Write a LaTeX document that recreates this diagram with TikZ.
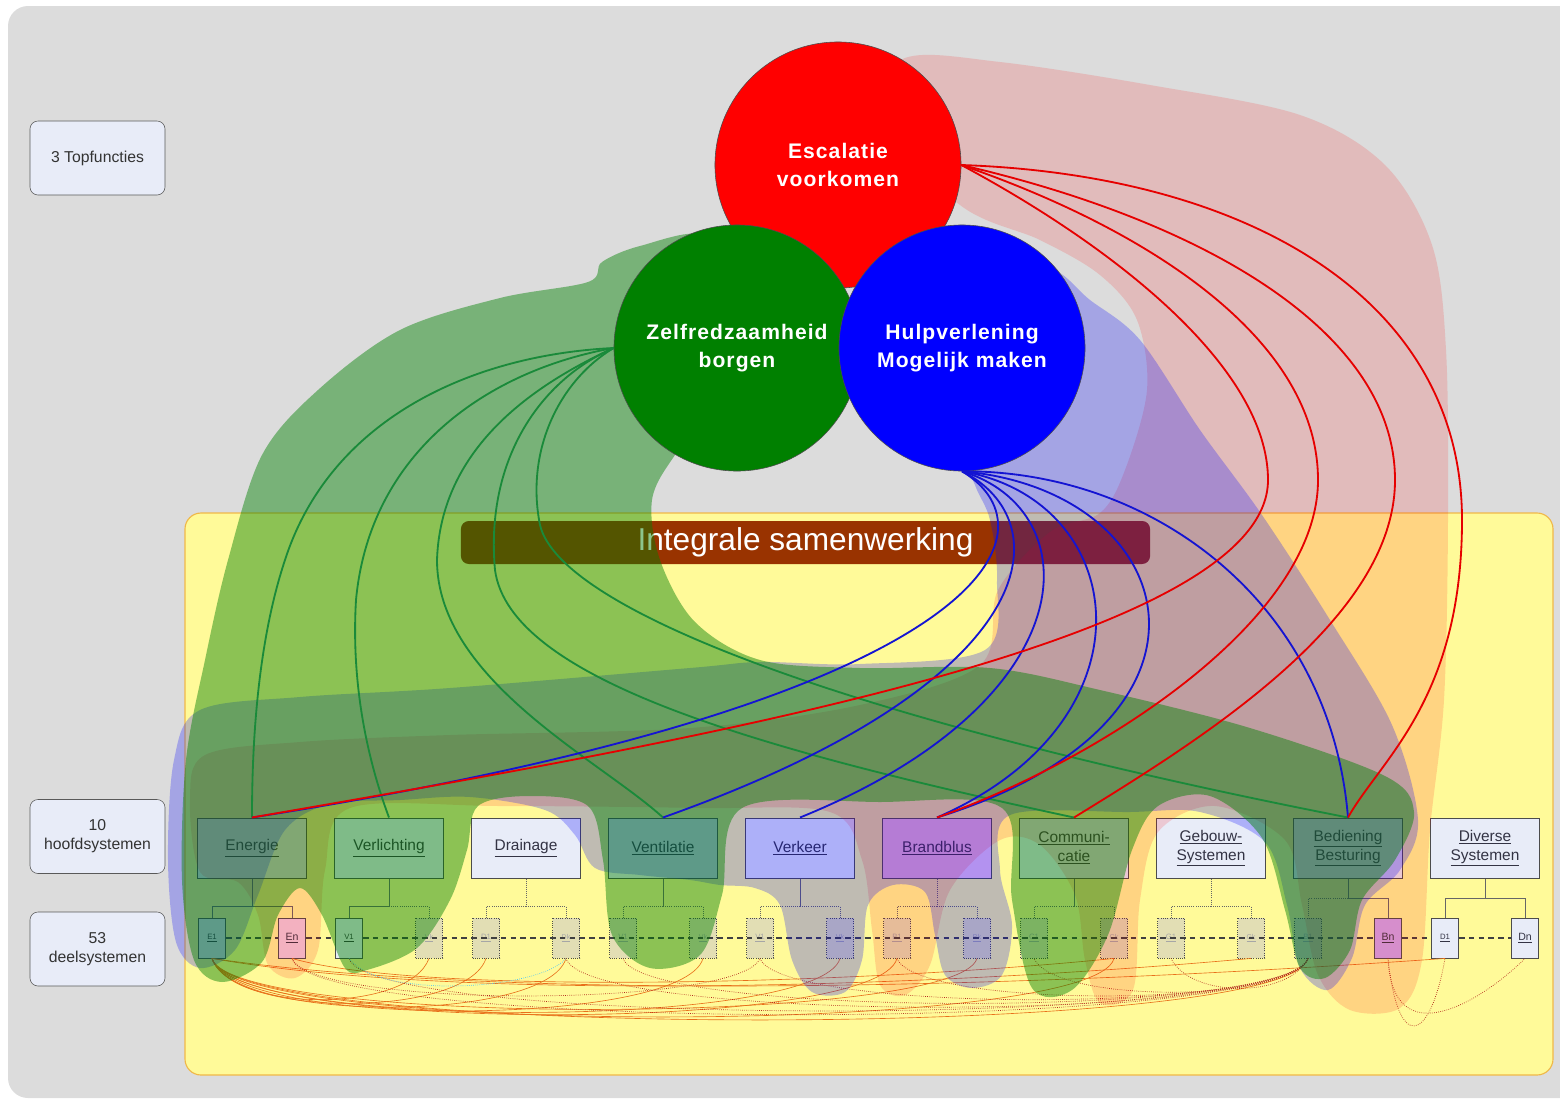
\documentclass[tikz,border=0pt]{standalone}
\usepackage{fontspec}
\setmainfont{Liberation Sans}
\newfontfamily\circlefont{Liberation Sans}[LetterSpace=5]
\usetikzlibrary{calc}

\definecolor{bggray}{HTML}{DCDCDC}
\definecolor{boxfill}{HTML}{E8ECF8}
\definecolor{boxtext}{HTML}{333344}
\definecolor{boxroze}{HTML}{F2D0E2}
\definecolor{boxpaars}{HTML}{CFA8F0}
\definecolor{boxbrand}{HTML}{F0C4EC}
\definecolor{subbeige}{HTML}{E2DEB4}
\definecolor{geel}{HTML}{FFFA99}
\definecolor{geelrand}{HTML}{F0B848}
\definecolor{balkrood}{HTML}{993300}
\definecolor{lijngroen}{HTML}{1A8A3A}
\definecolor{lijnrood}{HTML}{E60000}
\definecolor{lijnblauw}{HTML}{1414D2}
\definecolor{kluwenoranje}{HTML}{E8701A}
\definecolor{kluwenrood}{HTML}{B42A1E}

\tikzset{
  labelbox/.style={draw=black!65, fill=boxfill, rounded corners=0.2cm, minimum width=3.375cm,
    minimum height=1.85cm, align=center, text=black!80, font=\fontsize{11.2}{13.5}\selectfont},
  topfunctie/.style={circle, draw=black!70, line width=0.4pt, minimum size=6.15cm, inner sep=0pt,
    text=white, align=center, font=\circlefont\bfseries\fontsize{15}{20}\selectfont},
  balk/.style={fill=balkrood, rounded corners=0.2cm, minimum width=17.225cm, minimum height=1.075cm,
    text=white, font=\fontsize{22.5}{26}\selectfont},
  hoofdbox/.style={draw=black!70, line width=0.7pt, minimum width=2.725cm, minimum height=1.5cm,
    inner sep=1pt, align=center, text=boxtext, font=\fontsize{11}{13.5}\selectfont},
  deelbox/.style={draw=black!70, line width=0.6pt, minimum width=0.675cm, minimum height=1cm,
    inner sep=0pt, text=boxtext, font=\fontsize{7.5}{8}\selectfont},
  deeluit/.style={deelbox, densely dotted, text=black!35, font=\fontsize{5}{6}\selectfont},
  boom/.style={draw=black!60, line width=0.5pt},
  boomuit/.style={boom, densely dotted},
  deellijn/.style={draw=black!75, line width=0.9pt, dash pattern=on 4pt off 3pt},
  kluwen/.style={draw=kluwenoranje, line width=0.45pt},
  kluwenstip/.style={draw=kluwenrood, line width=0.5pt, densely dotted},
  rvlak/.style={fill=red, fill opacity=0.15},
  bvlak/.style={fill=blue, fill opacity=0.25},
  gvlak/.style={fill=green!50!black, fill opacity=0.45},
  groen/.style={draw=lijngroen, line width=1.3pt},
  rood/.style={draw=lijnrood, line width=1.3pt},
  blauw/.style={draw=lijnblauw, line width=1.3pt}
}

\begin{document}
\begin{tikzpicture}[x=0.025cm, y=-0.025cm]

  \useasboundingbox (0,0) rectangle (1560,1106);
  \clip (0,0) rectangle (1560,1106);

  % grey sheet and yellow frame
  \fill[bggray, rounded corners=0.5cm] (8,6) rectangle (1600,1098);
  \draw[fill=geel, draw=geelrand, line width=0.8pt, rounded corners=0.4cm] (185,513) rectangle (1553,1075);

  % labels on the left
  \node[labelbox] (lbltop) at (97.5,158) {3 Topfuncties};
  \node[labelbox] (lblhoofd) at (97.5,836.5) {10\\hoofdsystemen};
  \node[labelbox] (lbldeel) at (97.5,949) {53\\deelsystemen};

  % banner
  \node[balk] (samen) at (805.5,542.5) {Integrale samenwerking};

  % main systems
  \foreach \i/\naam/\kleur in {
      0/{\underline{Energie}}/boxfill,
      1/{\underline{Verlichting}}/boxfill,
      2/{\underline{Drainage}}/boxfill,
      3/{\underline{Ventilatie}}/boxfill,
      4/{\underline{Verkeer}}/boxfill,
      5/{\underline{Brandblus}}/boxbrand,
      6/{\underline{Communi-}\\\underline{catie}}/boxfill,
      7/{\underline{Gebouw-}\\\underline{Systemen}}/boxfill,
      8/{\underline{Bediening}\\\underline{Besturing}}/boxfill,
      9/{\underline{Diverse}\\\underline{Systemen}}/boxfill}
    \node[hoofdbox, fill=\kleur] (h\i) at (252+137*\i,848) {\naam};

  % sub systems, first and last of each group
  \foreach \i/\letter/\eind/\sa/\sb/\fa/\fb in {
      0/E/n/deelbox/deelbox/boxfill/boxroze,
      1/V/k/deelbox/deeluit/boxfill/subbeige,
      2/D/k/deeluit/deeluit/subbeige/subbeige,
      3/V/k/deeluit/deeluit/subbeige/subbeige,
      4/V/k/deeluit/deeluit/subbeige/subbeige,
      5/B/k/deeluit/deeluit/subbeige/subbeige,
      6/C/k/deeluit/deeluit/subbeige/subbeige,
      7/G/k/deeluit/deeluit/subbeige/subbeige,
      8/B/n/deeluit/deelbox/subbeige/boxpaars,
      9/D/n/deelbox/deelbox/boxfill/boxfill}
  {
    \node[\sa, fill=\fa, font=\fontsize{5.5}{6}\selectfont] (sa\i) at (212+137*\i,938) {\underline{\letter1}};
    \node[\sb, fill=\fb] (sb\i) at (292+137*\i,938) {\underline{\letter\eind}};
  }

  % tree from main to sub systems
  \foreach \i/\dy/\st/\la/\lb in {
      0/28/boom/boom/boom, 1/28/boom/boom/boomuit, 2/28/boomuit/boomuit/boomuit,
      3/28/boom/boomuit/boomuit, 4/28/boom/boomuit/boomuit, 5/28/boomuit/boomuit/boomuit,
      6/28/boom/boomuit/boomuit, 7/28/boomuit/boomuit/boomuit, 8/20/boom/boomuit/boom,
      9/20/boom/boom/boom}
  {
    \draw[\st] (h\i.south) -- ++(0,\dy) coordinate (k\i);
    \draw[\la] (k\i) -| (sa\i.north);
    \draw[\lb] (k\i) -| (sb\i.north);
  }

  % dashed chain through the sub systems
  \draw[deellijn] (sa0.east) -- (sb0.west) (sb0.east) -- (sa1.west)
    (sa1.east) -- (sb8.west) (sb8.east) -- (sa9.west) (sa9.east) -- (sb9.west);

  % dependencies between sub systems
  \foreach \doel/\diep in {sb1/55, sa2/60, sb2/65, sb3/70, sb4/72, sb5/68, sa5/75, sb6/78, sa8/82}
    \draw[kluwen] (sa0.south) .. controls +(20,\diep) and +(-20,\diep) .. (\doel.south);
  \foreach \doel/\diep in {sb0/75, sa1/70, sb2/65, sa3/60, sa4/55, sa5/50, sa6/45, sa7/40}
    \draw[kluwenstip] (sa8.south) .. controls +(-20,\diep) and +(20,\diep) .. (\doel.south);
  \draw[kluwenstip] (sb8.south) .. controls +(10,95) and +(-15,85) .. (sa9.south);
  \draw[kluwenstip] (sb8.south) .. controls +(5,100) and +(-40,40) .. (sb9.south);
  \draw[kluwenstip] (sb0.south) .. controls +(20,50) and +(-20,50) .. (sa4.south);
  \draw[kluwen] (sa9.south) .. controls (1000,990) and (500,1000) .. (sa0.south);
  \draw[kluwen] (sb7.south) .. controls (900,990) and (450,1000) .. (sa0.south);
  \draw[kluwen] (sb6.south) .. controls (850,985) and (420,995) .. (sb0.south);
  \draw[draw=cyan!70, line width=0.5pt, densely dotted] (sa1.south) .. controls (380,1000) and (540,990) .. (sb2.south);

  % coloured areas of the three top functions
  \fill[rvlak] plot[smooth cycle, tension=0.55] coordinates {
    (870,110) (905,58) (1000,62) (1150,85) (1300,115) (1385,165) (1432,245) (1446,350)
    (1448,520) (1444,700) (1430,830) (1422,960) (1400,1008) (1350,1010) (1318,975)
    (1302,905) (1285,840) (1215,806) (1158,832) (1140,900) (1133,990) (1100,1003)
    (1085,960) (1075,895) (1040,845) (1000,840) (950,890) (930,965) (905,995) (880,985)
    (872,930) (862,860) (830,812) (700,808) (500,806) (350,808) (325,870) (318,950)
    (295,978) (268,965) (258,915) (238,882) (200,872) (190,800) (205,755) (300,742)
    (450,735) (690,728) (860,705) (980,665) (998,590) (1050,532) (1100,513) (1125,470)
    (1147,390) (1137,320) (1100,275) (1040,240) (960,205)};
  \fill[bvlak] plot[smooth cycle, tension=0.55] coordinates {
    (1000,300) (1050,270) (1090,300) (1140,340) (1200,430) (1262,515) (1330,620)
    (1392,725) (1418,820) (1400,870) (1365,905) (1352,958) (1328,990) (1300,968)
    (1287,905) (1265,842) (1200,812) (1130,812) (1010,815) (1000,870) (1012,925)
    (1002,975) (972,988) (945,975) (935,935) (925,892) (893,885) (868,905) (862,960)
    (845,992) (812,992) (792,960) (780,905) (755,888) (720,885) (690,880) (640,875)
    (595,868) (575,835) (545,810) (470,797) (400,800) (330,804) (285,830) (258,895)
    (235,950) (200,968) (176,942) (168,860) (174,760) (200,710) (300,697) (450,688)
    (690,668) (760,662) (860,664) (985,650) (997,580) (990,520) (975,485) (962,440)};
  \fill[gvlak] plot[smooth cycle, tension=0.55] coordinates {
    (705,236) (640,246) (602,262) (588,282) (500,298) (400,330) (318,390) (262,455)
    (228,560) (205,660) (186,760) (182,880) (194,960) (222,982) (262,962) (278,915)
    (300,888) (322,915) (345,968) (367,970) (417,948) (450,900) (467,850) (478,806)
    (530,796) (588,806) (603,860) (612,935) (650,968) (700,955) (722,895) (742,808)
    (880,802) (1002,808) (1012,900) (1032,988) (1072,990) (1108,935) (1132,850)
    (1158,806) (1210,796) (1262,838) (1285,910) (1300,968) (1325,978) (1350,950)
    (1362,900) (1395,860) (1414,812) (1385,776) (1250,728) (1100,690) (990,668)
    (860,668) (760,660) (695,622) (660,560) (652,500) (675,455) (720,400) (720,300)};

  % three top functions
  \node[topfunctie, fill=red] (esc) at (838,165) {Escalatie\\voorkomen};
  \node[topfunctie, fill=green!50!black] (zelf) at (737,348) {Zelfredzaamheid\\borgen};
  \node[topfunctie, fill=blue] (hulp) at (962,348) {Hulpverlening\\Mogelijk maken};

  % links from Zelfredzaamheid
  \draw[groen] (zelf.west) .. controls (470,355) and (330,420) .. (285,560) .. controls (255,650) and (252,760) .. (h0.north);
  \draw[groen] (zelf.west) .. controls (490,370) and (370,450) .. (356,600) .. controls (350,700) and (375,780) .. (h1.north);
  \draw[groen] (zelf.west) .. controls (500,400) and (440,470) .. (437,560) .. controls (437,680) and (600,760) .. (h3.north);
  \draw[groen] (zelf.west) .. controls (540,380) and (485,460) .. (495,570) .. controls (510,680) and (760,750) .. (h6.north);
  \draw[groen] (zelf.west) .. controls (560,380) and (525,450) .. (540,525) .. controls (560,610) and (850,720) .. (h8.north);

  % links from Hulpverlening
  \draw[blauw] (hulp.south) .. controls (1060,530) and (1000,700) .. (h0.north);
  \draw[blauw] (hulp.south) .. controls (1060,520) and (1050,680) .. (h3.north);
  \draw[blauw] (hulp.south) .. controls (1090,510) and (1090,700) .. (h4.north);
  \draw[blauw] (hulp.south) .. controls (1130,500) and (1160,720) .. (h5.north);
  \draw[blauw] (hulp.south) .. controls (1180,490) and (1250,720) .. (h5.north);
  \draw[blauw] (hulp.south) .. controls (1150,470) and (1330,600) .. (h8.north);

  % links from Escalatie
  \draw[rood] (esc.east) .. controls (1250,175) and (1462,300) .. (1462,520) .. controls (1462,700) and (1380,760) .. (h8.north);
  \draw[rood] (esc.east) .. controls (1200,220) and (1395,330) .. (1395,480) .. controls (1395,620) and (1200,740) .. (h6.north);
  \draw[rood] (esc.east) .. controls (1150,230) and (1318,340) .. (1318,480) .. controls (1318,620) and (1100,760) .. (h5.north);
  \draw[rood] (esc.east) .. controls (1120,250) and (1268,370) .. (1268,480) .. controls (1268,640) and (700,740) .. (h0.north);

\end{tikzpicture}
\end{document}
